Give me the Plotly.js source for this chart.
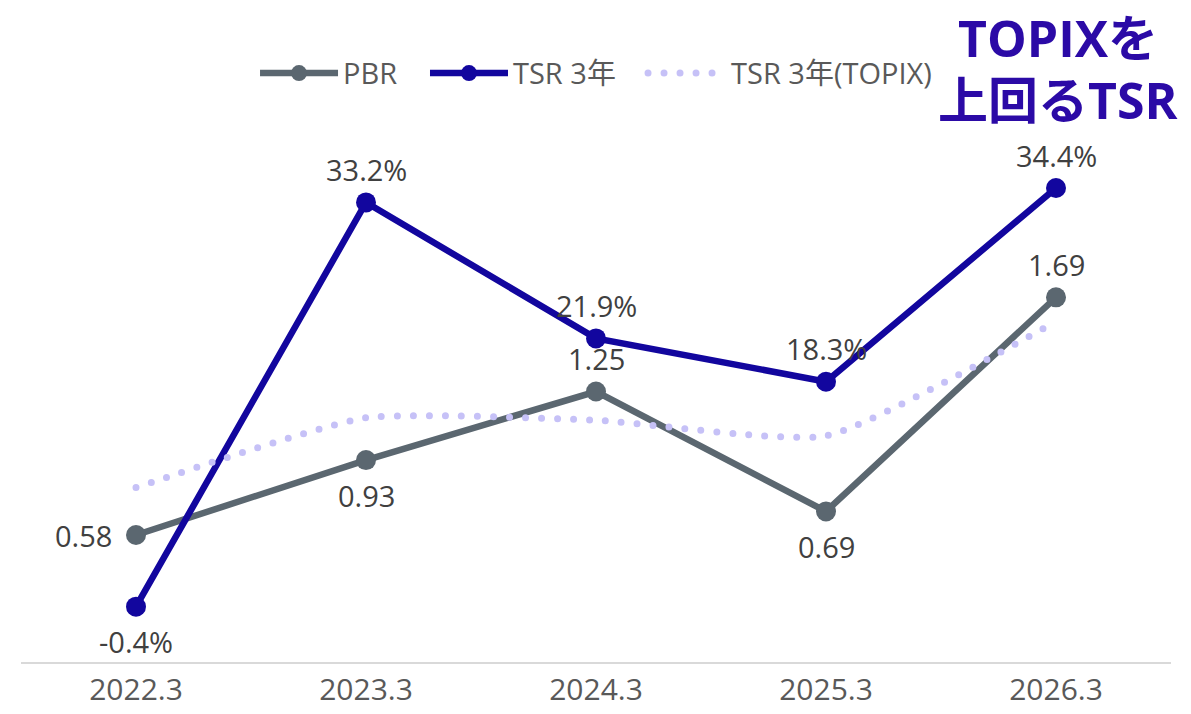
<!DOCTYPE html>
<html>
<head>
<meta charset="utf-8">
<script src="https://cdn.plot.ly/plotly-3.0.1.min.js"></script>
<style>
html,body{margin:0;padding:0;background:#fff;}
#chart{width:1191px;height:714px;}
</style>
</head>
<body>
<div id="chart"></div>
<script>
// ---- data ----
const categories = ['2022.3', '2023.3', '2024.3', '2025.3', '2026.3'];
const pbrValues = [0.58, 0.93, 1.25, 0.69, 1.69];
const tsrValues = [-0.4, 33.2, 21.9, 18.3, 34.4];
const tsrTopixValues = [9.5, 15.3, 15.1, 13.8, 23.3];
const seriesNames = ['PBR', 'TSR 3年', 'TSR 3年(TOPIX)'];
const titleLines = ['TOPIXを', '上回るTSR'];

// ---- label placement (style, not data) ----
const pbrLabelPos = ['left', 'below', 'above', 'below', 'above'];
const tsrLabelPos = ['below', 'above', 'above', 'above', 'above'];
const titleLineY = [1.1954, 1.0766];

const FONT = 'Open Sans, Noto Sans CJK JP, sans-serif';
const C_PBR = '#5b6770';
const C_TSR = '#12069e';
const C_TOPIX = '#c6c1f7';

const traces = [
  {
    x: categories, y: pbrValues, name: seriesNames[0], type: 'scatter', mode: 'lines+markers',
    yaxis: 'y', legend: 'legend', line: {color: C_PBR, width: 6.5}, marker: {color: C_PBR, size: 20}, cliponaxis: false
  },
  {
    x: categories, y: tsrValues, name: seriesNames[1], type: 'scatter', mode: 'lines+markers',
    yaxis: 'y2', legend: 'legend2', line: {color: C_TSR, width: 6.5}, marker: {color: C_TSR, size: 20}, cliponaxis: false
  },
  {
    x: categories, y: tsrTopixValues, name: seriesNames[2], type: 'scatter', mode: 'lines',
    yaxis: 'y2', legend: 'legend3',
    line: {color: C_TOPIX, width: 7, dash: '0px,16px', shape: 'spline', smoothing: 0.5}, cliponaxis: false
  }
];

function labelAnn(idx, yv, text, pos, yref) {
  const a = {x: idx, y: yv, xref: 'x', yref: yref, text: text, showarrow: false,
    font: {family: FONT, size: 29, color: '#404040'}};
  if (pos === 'above') { a.yshift = 33; }
  else if (pos === 'below') { a.yshift = -35; }
  else if (pos === 'left') { a.xanchor = 'right'; a.xshift = -22; }
  return a;
}

const annotations = [];
categories.forEach((c, i) => {
  annotations.push(labelAnn(i, pbrValues[i], pbrValues[i].toFixed(2), pbrLabelPos[i], 'y'));
  annotations.push(labelAnn(i, tsrValues[i], tsrValues[i].toFixed(1) + '%', tsrLabelPos[i], 'y2'));
});
titleLines.forEach((t, i) => {
  annotations.push({
    text: t, xref: 'paper', yref: 'paper', x: 0.9017, xanchor: 'center',
    y: titleLineY[i], yanchor: 'middle', showarrow: false,
    font: {family: FONT, size: 50, color: '#2b0aa6', weight: 700}
  });
});

function legendAt(x) {
  return {
    orientation: 'h', x: x, xanchor: 'left', y: 1.128, yanchor: 'middle',
    font: {family: FONT, size: 29, color: '#595959'}, itemwidth: 78, bgcolor: 'rgba(0,0,0,0)'
  };
}

const layout = {
  width: 1191, height: 714,
  margin: {l: 21, r: 20, t: 140, b: 52},
  paper_bgcolor: '#ffffff', plot_bgcolor: '#ffffff',
  font: {family: FONT, size: 29, color: '#595959'},
  showlegend: true,
  legend: legendAt(0.2035),
  legend2: legendAt(0.3513),
  legend3: legendAt(0.5409),
  xaxis: {
    type: 'category', range: [-0.5, 4.5], showgrid: false, zeroline: false,
    showline: true, linecolor: '#d9d9d9', linewidth: 2, ticks: '',
    tickfont: {family: FONT, size: 30, color: '#595959'}, fixedrange: true
  },
  yaxis: {
    range: [-0.0132, 2.4249], showgrid: false, zeroline: false, showticklabels: false, showline: false, fixedrange: true
  },
  yaxis2: {
    range: [-4.997, 38.39], overlaying: 'y', side: 'right', showgrid: false, zeroline: false,
    showticklabels: false, showline: false, fixedrange: true
  },
  annotations: annotations
};

Plotly.newPlot('chart', traces, layout, {displayModeBar: false, staticPlot: true}).then(() => {
  document.querySelectorAll('path.js-line').forEach(p => {
    if (p.style.strokeDasharray && p.style.strokeDasharray !== 'none') {
      p.style.strokeLinecap = 'round';
    }
  });
});
</script>
</body>
</html>
